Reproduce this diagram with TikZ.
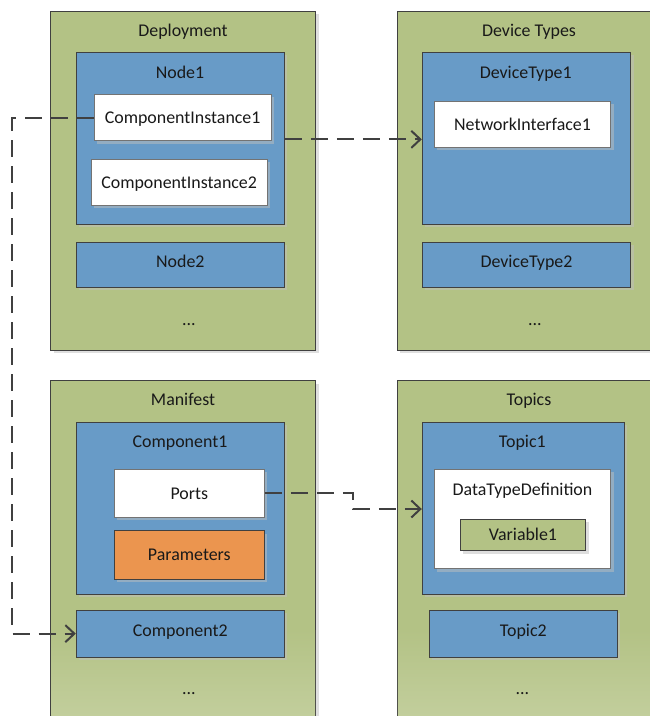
\documentclass[tikz,border=0pt]{standalone}
\usepackage{fontspec}
\setmainfont{Carlito}
\usetikzlibrary{arrows.meta,shadows,calc}
\definecolor{grn}{RGB}{179,194,133}
\definecolor{lgrn}{RGB}{194,206,156}
\definecolor{blu}{RGB}{104,155,199}
\definecolor{org}{RGB}{235,149,79}
\definecolor{edge}{RGB}{64,64,64}
\begin{document}
\begin{tikzpicture}[x=1pt,y=-1pt,
 shd/.style={drop shadow={shadow xshift=3pt,shadow yshift=-3pt,fill=black!25,opacity=0.5}},
 box/.style={rectangle,inner sep=0pt,line width=1pt,shd},
 outerbox/.style={box,fill=grn,draw=edge},
 bluebox/.style={box,fill=blu,draw=edge},
 whitebox/.style={box,fill=white,draw=black!55},
 orangebox/.style={box,fill=org,draw=edge},
 varbox/.style={box,fill=grn,draw=edge},
 txt/.style={font=\fontsize{17.9}{21}\selectfont,text=black!90,inner sep=0pt,text height=11.5pt,text depth=0pt},
 conn/.style={draw=edge,line width=2pt,dash pattern=on 17pt off 9pt},
 arr/.style={-{Straight Barb[length=9pt,width=17pt,line width=2pt]}}
]
\useasboundingbox (0,0) rectangle (650,716);
\clip (0,0) rectangle (650,716);

% outer boxes
\node[outerbox,minimum width=265,minimum height=339] (dep) at (183.2,180.5) {};
\node[outerbox,minimum width=262.7,minimum height=339] (dev) at (528.65,180.5) {};
\node[outerbox,minimum width=265,minimum height=349.3] (man) at (183.2,555.35) {};
\node[outerbox,minimum width=262.7,minimum height=349.3] (top) at (528.65,555.35) {};
\shade[top color=grn,bottom color=lgrn] (51.3,630) rectangle (315.1,716);
\shade[top color=grn,bottom color=lgrn] (397.9,630) rectangle (650,716);

\node[txt] (depT) at (183,30.5) {Deployment};
\node[txt] (devT) at (529,30.5) {Device Types};
\node[txt] (manT) at (183,399.5) {Manifest};
\node[txt] (topT) at (529,399.5) {Topics};

% Deployment
\node[bluebox,minimum width=208,minimum height=171.7] (node1) at (180.3,138.15) {};
\node[txt] (node1T) at (180,72.5) {Node1};
\node[whitebox,minimum width=176.7,minimum height=46.4] (ci1) at (182.65,117.5) {};
\node[txt] at (182.65,117.8) {ComponentInstance1};
\node[whitebox,minimum width=176.3,minimum height=46] (ci2) at (179.15,182.3) {};
\node[txt] at (179.15,182.8) {ComponentInstance2};
\node[bluebox,minimum width=208,minimum height=45] (node2) at (180.3,264.8) {};
\node[txt] at (180.3,261.3) {Node2};
\node[txt] (depD) at (189,319.3) {...};

% Device Types
\node[bluebox,minimum width=208.4,minimum height=171.7] (dt1) at (526.5,138.15) {};
\node[txt] (dt1T) at (525.7,72.5) {DeviceType1};
\node[whitebox,minimum width=176.4,minimum height=46] (ni1) at (522.5,124) {};
\node[txt] at (522.5,124.5) {NetworkInterface1};
\node[bluebox,minimum width=208.4,minimum height=45] (dt2) at (526.5,264.8) {};
\node[txt] at (526.5,261.5) {DeviceType2};
\node[txt] (devD) at (535,319.3) {...};

% Manifest
\node[bluebox,minimum width=208,minimum height=171.7] (comp1) at (180.3,508.15) {};
\node[txt] (comp1T) at (180,441.7) {Component1};
\node[whitebox,minimum width=150,minimum height=48] (ports) at (189.3,493) {};
\node[txt] at (189.3,493.3) {Ports};
\node[orangebox,minimum width=150,minimum height=48.3] (params) at (189.3,554.85) {};
\node[txt] at (189.3,554.5) {Parameters};
\node[bluebox,minimum width=208,minimum height=46.7] (comp2) at (180.3,633.65) {};
\node[txt] at (180.3,630.5) {Component2};
\node[txt] (manD) at (189,688.7) {...};

% Topics
\node[bluebox,minimum width=201.7,minimum height=171.7] (topic1) at (523.15,508.15) {};
\node[txt] (topic1T) at (522.3,441.7) {Topic1};
\node[whitebox,minimum width=176.4,minimum height=99.7] (dtd) at (522.5,518.85) {};
\node[txt] (dtdT) at (522.5,489.7) {DataTypeDefinition};
\node[varbox,minimum width=125.4,minimum height=31.7] (var1) at (523,534.85) {};
\node[txt] at (523,534.3) {Variable1};
\node[bluebox,minimum width=188,minimum height=46.7] (topic2) at (523.3,633.65) {};
\node[txt] at (523.3,630.5) {Topic2};
\node[txt] (topD) at (522.5,688.7) {...};

% connectors
\coordinate (lc) at (12.3,117.5);
\draw[conn,arr] (ci1.west) -- (lc) |- (comp2.west);
\draw[conn,arr] ($(node1.east)+(0,1.2)$) -- ($(dt1.west)+(0,1.2)$);
\coordinate (bend) at (353.3,509);
\draw[conn,arr] (ports.east) -| (bend) -- (bend -| topic1.west);
\end{tikzpicture}
\end{document}
